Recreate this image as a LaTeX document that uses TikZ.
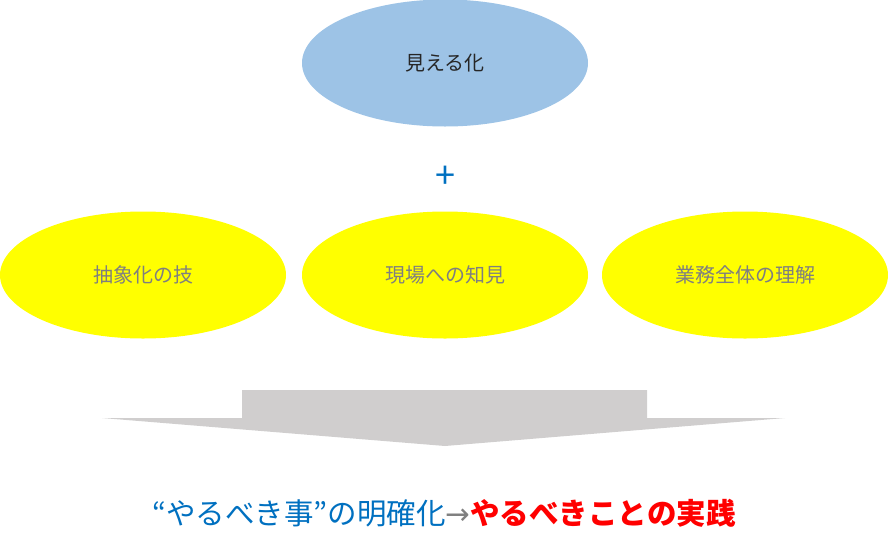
\documentclass[tikz,border=0pt]{standalone}
\usepackage{fontspec}
\setmainfont{Noto Sans CJK JP}
\newfontfamily\sym{DejaVu Sans}
\usetikzlibrary{shapes.geometric}
\definecolor{topblue}{HTML}{9DC3E6}
\definecolor{ylw}{HTML}{FFFF00}
\definecolor{arrgray}{HTML}{D0CECE}
\definecolor{txtblue}{HTML}{0070C0}
\definecolor{lblgray}{HTML}{7F7F7F}
\definecolor{darktxt}{HTML}{262626}
\begin{document}
\begin{tikzpicture}[x=1pt,y=-1pt,
  oval/.style={ellipse, minimum width=286pt, minimum height=127pt, inner sep=0pt, draw=none},
  yoval/.style={oval, fill=ylw, text=lblgray, font=\fontsize{20}{24}\selectfont}]
\useasboundingbox (0,0) rectangle (888,552);
\node[oval, fill=topblue, text=darktxt, font=\fontsize{20}{24}\selectfont] (top) at (445,63) {見える化};
\node[text=txtblue, font=\fontsize{36}{40}\selectfont, inner sep=0pt] (plus) at (445,177) {+};
\node[yoval] (a) at (143,275) {抽象化の技};
\node[yoval] (b) at (445,275) {現場への知見};
\node[yoval] (c) at (745,275) {業務全体の理解};
\fill[arrgray] (242,390) -- (647,390) -- (647,418) -- (785,418) -- (445,446) -- (102,418) -- (242,418) -- cycle;
\node[font=\fontsize{29.5}{32}\selectfont, anchor=center, inner sep=0pt] (res) at (444,513)
  {\textcolor{txtblue}{“やるべき事”の明確化}\textcolor{gray}{\sym →}\textcolor{red}{\bfseries やるべきことの実践}};
\end{tikzpicture}
\end{document}
